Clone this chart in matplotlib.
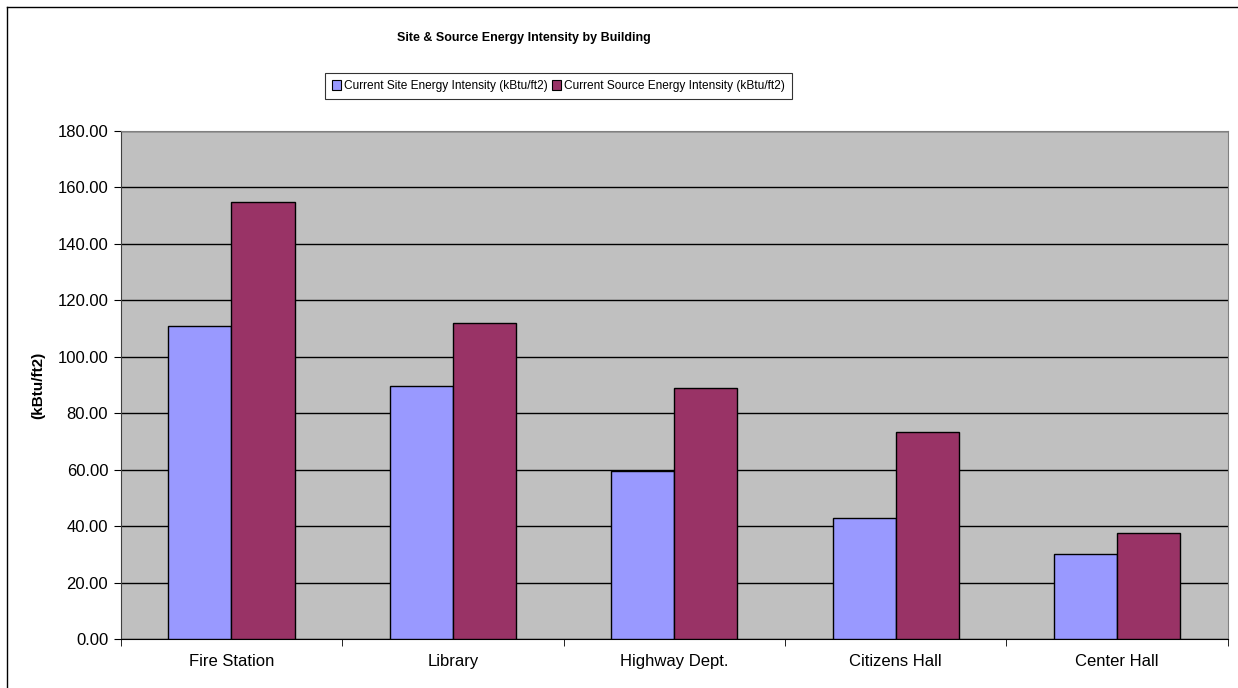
import numpy as np
import matplotlib
matplotlib.use("Agg")
import matplotlib.pyplot as plt
from matplotlib.lines import Line2D

plt.rcParams['font.family'] = ['Liberation Sans', 'DejaVu Sans']

buildings = ['Fire Station', 'Library', 'Highway Dept.', 'Citizens Hall', 'Center Hall']
site_eui = [111.0, 89.8, 59.5, 43.0, 30.2]
source_eui = [155.0, 112.0, 88.8, 73.2, 37.4]
series_names = ['Current Site Energy Intensity (kBtu/ft2)',
                'Current Source Energy Intensity (kBtu/ft2)']

fig = plt.figure(figsize=(12.38, 6.88), dpi=100)
ax = fig.add_axes([0.0975, 0.0712, 0.8942, 0.7384])
ax.set_facecolor('#C0C0C0')

x = np.arange(len(buildings))
w = 0.285
b1 = ax.bar(x - w/2, site_eui, w, color='#9999FF', edgecolor='black', linewidth=1, zorder=3)
b2 = ax.bar(x + w/2, source_eui, w, color='#993366', edgecolor='black', linewidth=1, zorder=3)

ax.set_xlim(-0.5, len(buildings) - 0.5)
ax.set_ylim(0, 180)
ax.set_yticks(np.arange(0, 181, 20))
ax.set_yticklabels(['%.2f' % v for v in np.arange(0, 181, 20)], fontsize=12)
ax.yaxis.grid(True, color='black', linewidth=1, zorder=0)
ax.set_axisbelow(True)

# category labels centred, tick marks on the boundaries
ax.set_xticks(x)
ax.set_xticklabels(buildings, fontsize=12)
ax.tick_params(axis='x', which='major', length=0, pad=11)
ax.set_xticks(np.arange(-0.5, len(buildings)), minor=True)
ax.tick_params(axis='x', which='minor', length=5, direction='out', color='black')
ax.tick_params(axis='y', length=5, direction='out', color='black', pad=4)

for s in ['top', 'right']:
    ax.spines[s].set_color('#808080')
ax.spines['left'].set_color('#404040')
ax.spines['bottom'].set_color('black')

ax.set_ylabel('(kBtu/ft2)', fontsize=11, fontweight='bold', labelpad=9)

fig.text(0.423, 0.945, 'Site & Source Energy Intensity by Building',
         ha='center', va='center', fontsize=9, fontweight='bold')

handles = [plt.Rectangle((0, 0), 1, 1, facecolor='#9999FF', edgecolor='black', linewidth=0.8),
           plt.Rectangle((0, 0), 1, 1, facecolor='#993366', edgecolor='black', linewidth=0.8)]
leg = fig.legend(handles, series_names, loc='center', bbox_to_anchor=(0.451, 0.875),
                 ncol=2, fontsize=8.6, frameon=True, fancybox=False,
                 handlelength=0.75, handleheight=0.9, handletextpad=0.3,
                 columnspacing=0.3, borderpad=0.55, borderaxespad=0)
leg.get_frame().set_edgecolor('black')
leg.get_frame().set_linewidth(0.8)

# outer chart border
fig.add_artist(Line2D([0.0057, 0.0057], [0, 0.99], transform=fig.transFigure, color='black', linewidth=1))
fig.add_artist(Line2D([0.0057, 1], [0.99, 0.99], transform=fig.transFigure, color='black', linewidth=1))

fig.savefig('out.png', dpi=100)
